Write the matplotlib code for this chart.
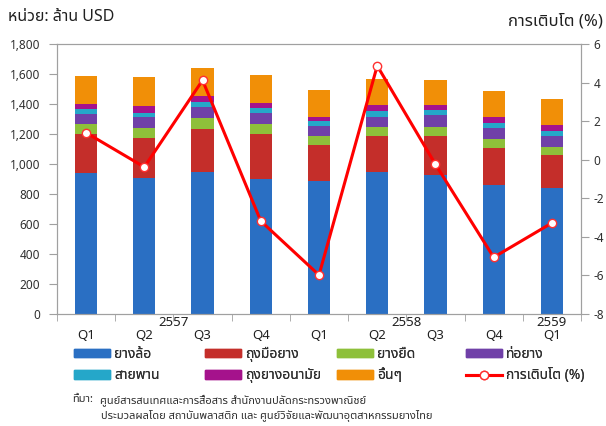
import numpy as np
import matplotlib
matplotlib.use('Agg')
import matplotlib.pyplot as plt
from matplotlib import font_manager
from matplotlib.ft2font import FT2Font
from matplotlib.patches import Patch
from matplotlib.lines import Line2D
import matplotlib.transforms as mtransforms


quarters = ['Q1', 'Q2', 'Q3', 'Q4', 'Q1', 'Q2', 'Q3', 'Q4', 'Q1']
years = ['2557', '2558', '2559']
year_pos = [1.5, 5.5, 8]

# export value by product (million USD)
tyres = [938, 904, 949, 898, 887, 947, 929, 862, 838]
gloves = [262, 272, 282, 302, 237, 240, 255, 242, 220]
elastic = [64, 62, 73, 64, 60, 57, 63, 60, 53]
hoses = [67, 75, 76, 78, 72, 72, 77, 74, 73]
belts = [33, 29, 31, 31, 28, 40, 36, 35, 34]
condoms = [38, 42, 40, 34, 32, 35, 31, 40, 40]
others = [187, 194, 191, 184, 177, 178, 171, 174, 178]

# growth (%)
growth = [1.4, -0.38, 4.12, -3.18, -5.98, 4.87, -0.24, -5.06, -3.28]

names = ['ยางล้อ', 'ถุงมือยาง', 'ยางยืด', 'ท่อยาง',
         'สายพาน', 'ถุงยางอนามัย', 'อื่นๆ']
colors = ['#2A6FC3', '#C42E2A', '#8EC03A', '#7040A8',
          '#25A7C9', '#A5128C', '#F18F07']


def find_thai_font():
    '''
    '''
    found = []
    for f in font_manager.fontManager.ttflist:
        try:
            if ord('ก') in FT2Font(f.fname).get_charmap():
                found.append(f.name)
        except Exception:
            pass
    for pref in ['Tahoma', 'Noto Sans Thai', 'Loma', 'Garuda', 'Sarabun']:
        if pref in found:
            return pref
    return found[0] if found else None


thai = find_thai_font()
families = ['DejaVu Sans']
if thai:
    families = [thai, 'DejaVu Sans']
plt.rcParams['font.family'] = families

fig = plt.figure(figsize=(6.06, 4.26), dpi=100)
ax = fig.add_axes([57 / 606, 1 - 314 / 426, 524 / 606, 270 / 426])

x = np.arange(len(quarters))
series = [tyres, gloves, elastic, hoses, belts, condoms, others]
bottom = np.zeros(len(x))
for vals, c in zip(series, colors):
    ax.bar(x, vals, 0.38, bottom=bottom, color=c, zorder=2)
    bottom += np.array(vals)

ax.set_xlim(-0.5, len(x) - 0.5)
ax.set_ylim(0, 1800)
ax.set_yticks(range(0, 1801, 200))
ax.set_yticklabels(['{:,}'.format(v) for v in range(0, 1801, 200)])

ax.set_xticks(x)
ax.set_xticklabels(quarters)
ax.set_xticks(np.arange(-0.5, len(x)), minor=True)
ax.tick_params(axis='x', which='major', length=0, pad=11, labelsize=9.5,
               colors='#202020')
ax.tick_params(axis='x', which='minor', length=5, color='#A0A0A0')
ax.tick_params(axis='y', length=6, pad=6, labelsize=8.5, colors='#303030',
               color='#A0A0A0')
for s in ax.spines.values():
    s.set_color('#A0A0A0')

# year labels above quarter labels
trans = mtransforms.blended_transform_factory(ax.transData, ax.transAxes)
for yr, p in zip(years, year_pos):
    ax.text(p, -0.032, yr, transform=trans, ha='center', va='center',
            fontsize=9.5, color='#202020')

ax2 = ax.twinx()
ax2.plot(x, growth, color='#FF0000', lw=2.2, marker='o', markersize=6,
         markerfacecolor='white', markeredgecolor='#FF3030',
         markeredgewidth=1, zorder=3)
ax2.set_ylim(-8, 6)
ax2.set_yticks(range(-8, 7, 2))
ax2.tick_params(axis='y', length=6, pad=3, labelsize=8.5, colors='#303030',
                color='#A0A0A0')
for s in ax2.spines.values():
    s.set_color('#A0A0A0')

fig.text(8 / 606, 1 - 17 / 426, 'หน่วย: ล้าน USD', fontsize=11.5,
         ha='left', va='center', color='#202020')
fig.text(603 / 606, 1 - 22 / 426, 'การเติบโต (%)', fontsize=12,
         ha='right', va='center', color='#202020')

# legend, four fixed-width columns like the original
handles = [Patch(color=c) for c in colors]
handles.append(Line2D([], [], color='#FF0000', lw=2.2, marker='o',
                      markersize=6, markerfacecolor='white',
                      markeredgecolor='#FF3030'))
labels = names + ['การเติบโต (%)']
col_x = [74, 205, 337, 466]
for i, cx in enumerate(col_x):
    idx = [i, i + 4]
    leg = fig.legend([handles[j] for j in idx], [labels[j] for j in idx],
                     loc='upper left',
                     bbox_to_anchor=(cx / 606, 1 - 347 / 426),
                     frameon=False, fontsize=10, handlelength=2.6,
                     handleheight=0.55, handletextpad=0.3,
                     borderpad=0, borderaxespad=0, labelspacing=0.45,
                     labelcolor='#303030')
    fig.add_artist(leg)

fig.text(72 / 606, 1 - 400 / 426,
         'ที่มา:', fontsize=8, fontweight='bold', ha='left',
         va='center', color='#303030')
fig.text(100 / 606, 1 - 400 / 426,
         'ศูนย์สารสนเทศและการสื่อสาร สำนักงานปลัดกระทรวงพาณิชย์',
         fontsize=8, ha='left', va='center', color='#303030')
fig.text(101 / 606, 1 - 416 / 426,
         'ประมวลผลโดย สถาบันพลาสติก และ ศูนย์วิจัยและพัฒนาอุตสาหกรรมยางไทย',
         fontsize=8, ha='left', va='center', color='#303030')

fig.savefig('out.png', dpi=100)
